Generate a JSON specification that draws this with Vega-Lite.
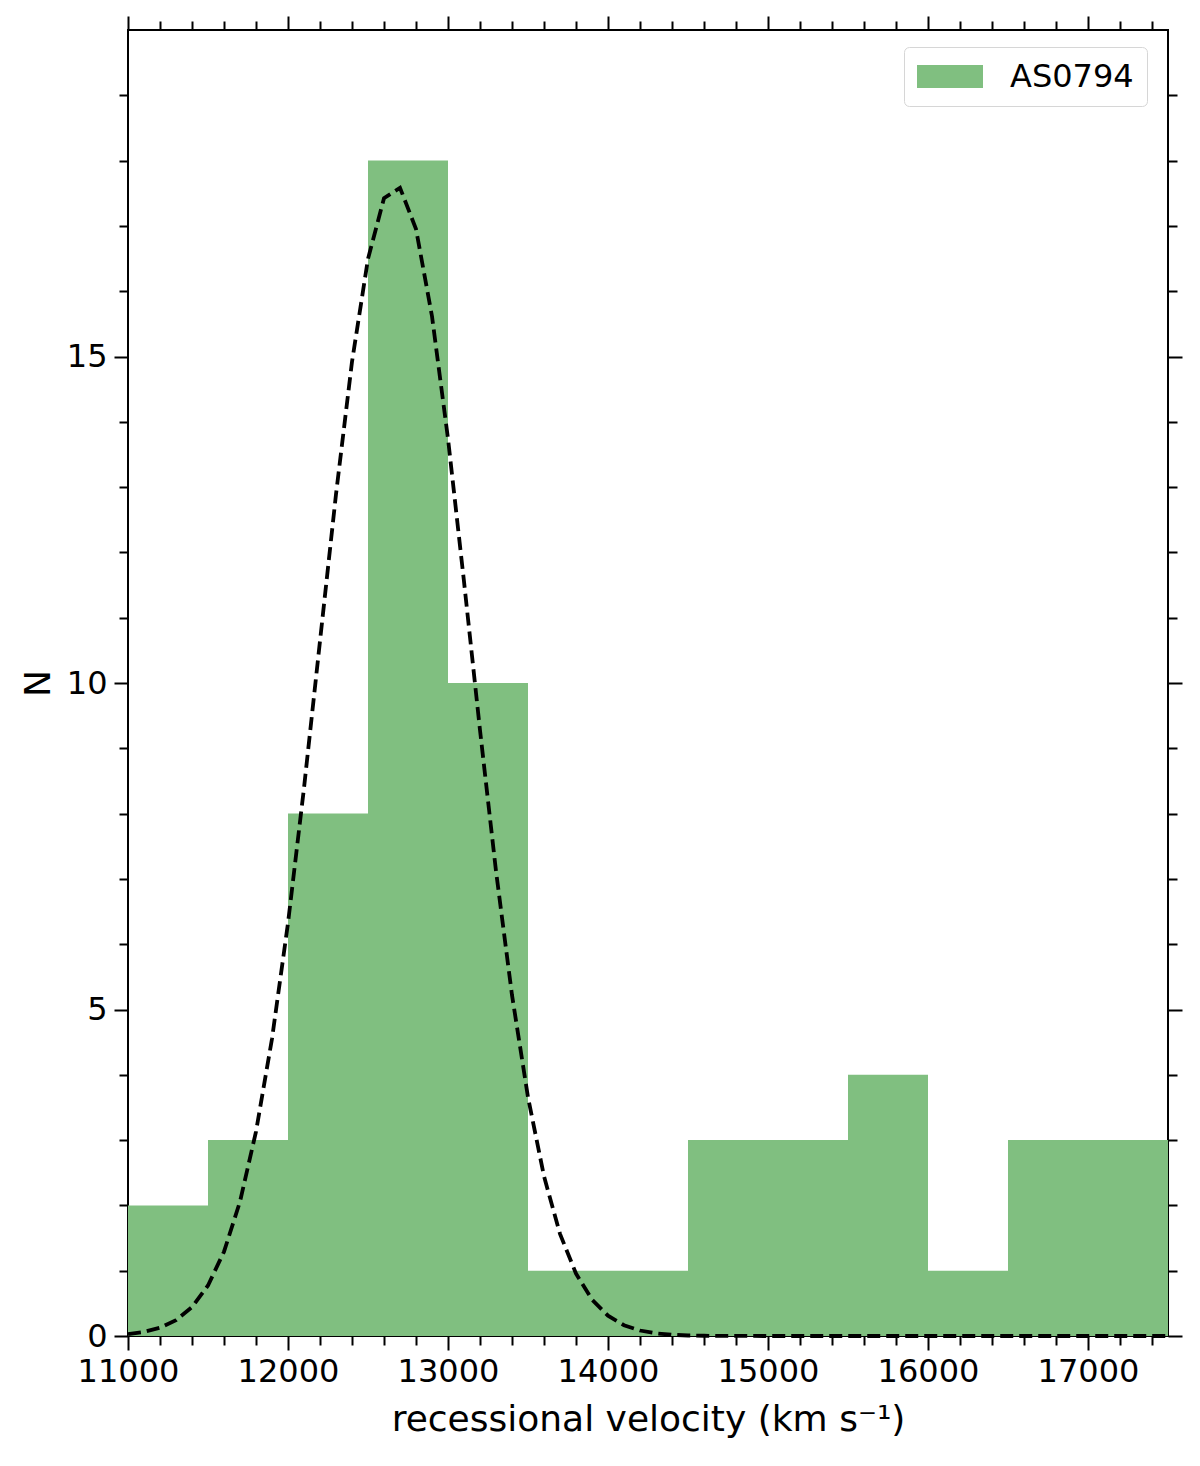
{
  "$schema": "https://vega.github.io/schema/vega-lite/v6.json",
  "width": 1040,
  "height": 1306,
  "autosize": "none",
  "padding": {"left": 128, "top": 30, "right": 32, "bottom": 130},
  "background": "white",
  "config": {
    "font": "DejaVu Sans",
    "view": {"stroke": "black", "strokeWidth": 2},
    "axis": {"grid": false, "domain": false, "tickColor": "black", "tickWidth": 2, "labelColor": "black", "titleColor": "black", "labelFont": "DejaVu Sans", "titleFont": "DejaVu Sans", "labelFontSize": 32, "titleFontSize": 36, "titleFontWeight": "normal", "labelFlush": false}
  },
  "datasets": {
    "bins": [
      {"start": 11000, "end": 11500, "count": 2, "label": "AS0794"},
      {"start": 11500, "end": 12000, "count": 3, "label": "AS0794"},
      {"start": 12000, "end": 12500, "count": 8, "label": "AS0794"},
      {"start": 12500, "end": 13000, "count": 18, "label": "AS0794"},
      {"start": 13000, "end": 13500, "count": 10, "label": "AS0794"},
      {"start": 13500, "end": 14000, "count": 1, "label": "AS0794"},
      {"start": 14000, "end": 14500, "count": 1, "label": "AS0794"},
      {"start": 14500, "end": 15000, "count": 3, "label": "AS0794"},
      {"start": 15000, "end": 15500, "count": 3, "label": "AS0794"},
      {"start": 15500, "end": 16000, "count": 4, "label": "AS0794"},
      {"start": 16000, "end": 16500, "count": 1, "label": "AS0794"},
      {"start": 16500, "end": 17000, "count": 3, "label": "AS0794"},
      {"start": 17000, "end": 17500, "count": 3, "label": "AS0794"}
    ],
    "fit": [
      {"v": 11000, "n": 0.030},
      {"v": 11100, "n": 0.063},
      {"v": 11200, "n": 0.127},
      {"v": 11300, "n": 0.243},
      {"v": 11400, "n": 0.444},
      {"v": 11500, "n": 0.774},
      {"v": 11600, "n": 1.291},
      {"v": 11700, "n": 2.057},
      {"v": 11800, "n": 3.130},
      {"v": 11900, "n": 4.552},
      {"v": 12000, "n": 6.323},
      {"v": 12100, "n": 8.393},
      {"v": 12200, "n": 10.642},
      {"v": 12300, "n": 12.890},
      {"v": 12400, "n": 14.919},
      {"v": 12500, "n": 16.495},
      {"v": 12600, "n": 17.424},
      {"v": 12700, "n": 17.584},
      {"v": 12800, "n": 16.953},
      {"v": 12900, "n": 15.616},
      {"v": 13000, "n": 13.742},
      {"v": 13100, "n": 11.554},
      {"v": 13200, "n": 9.279},
      {"v": 13300, "n": 7.120},
      {"v": 13400, "n": 5.220},
      {"v": 13500, "n": 3.656},
      {"v": 13600, "n": 2.446},
      {"v": 13700, "n": 1.564},
      {"v": 13800, "n": 0.956},
      {"v": 13900, "n": 0.557},
      {"v": 14000, "n": 0.311},
      {"v": 14100, "n": 0.165},
      {"v": 14200, "n": 0.084},
      {"v": 14300, "n": 0.041},
      {"v": 14400, "n": 0.019},
      {"v": 14500, "n": 0.008},
      {"v": 14600, "n": 0.004},
      {"v": 14700, "n": 0.001},
      {"v": 14800, "n": 0.001},
      {"v": 15000, "n": 0},
      {"v": 15500, "n": 0},
      {"v": 16000, "n": 0},
      {"v": 16500, "n": 0},
      {"v": 17000, "n": 0},
      {"v": 17500, "n": 0}
    ]
  },
  "layer": [
    {
      "data": {"name": "bins"},
      "mark": {"type": "rect", "color": "#80bf80"},
      "encoding": {
        "x": {"field": "start", "type": "quantitative",
          "scale": {"domain": [11000, 17500], "nice": false, "zero": false},
          "axis": {"orient": "bottom", "values": [11000, 12000, 13000, 14000, 15000, 16000, 17000], "format": "d", "tickSize": 14, "labelPadding": 6, "title": "recessional velocity (km s⁻¹)", "titlePadding": 15}},
        "x2": {"field": "end"},
        "y": {"field": "count", "type": "quantitative",
          "scale": {"domain": [0, 20], "nice": false},
          "axis": {"orient": "left", "values": [0, 5, 10, 15], "tickSize": 14, "labelPadding": 7, "title": "N", "titlePadding": 9}},
        "y2": {"datum": 0},
        "color": {"field": "label", "type": "nominal", "scale": {"range": ["#80bf80"]},
          "legend": {"title": null, "orient": "none", "legendX": 776, "legendY": 17,
            "symbolType": "M-1,-0.7L3,-0.7L3,0.7L-1,0.7Z", "symbolSize": 1089, "symbolStrokeWidth": 0, "symbolOpacity": 1,
            "labelFontSize": 32, "labelFont": "DejaVu Sans", "labelColor": "black", "labelOffset": 60,
            "padding": 13, "fillColor": "white", "strokeColor": "#d6d6d6", "cornerRadius": 5}}
      }
    },
    {
      "data": {"name": "fit"},
      "mark": {"type": "line", "color": "black", "strokeWidth": 3.8, "strokeDash": [13, 6]},
      "encoding": {
        "x": {"field": "v", "type": "quantitative",
          "scale": {"domain": [11000, 17500], "nice": false, "zero": false},
          "axis": {"orient": "top", "values": [11000, 11200, 11400, 11600, 11800, 12000, 12200, 12400, 12600, 12800, 13000, 13200, 13400, 13600, 13800, 14000, 14200, 14400, 14600, 14800, 15000, 15200, 15400, 15600, 15800, 16000, 16200, 16400, 16600, 16800, 17000, 17200, 17400],
            "labels": false, "title": null,
            "tickSize": {"condition": {"test": "datum.value % 1000 === 0", "value": 14}, "value": 9}}},
        "y": {"field": "n", "type": "quantitative",
          "scale": {"domain": [0, 20], "nice": false},
          "axis": {"orient": "right", "values": [0, 1, 2, 3, 4, 5, 6, 7, 8, 9, 10, 11, 12, 13, 14, 15, 16, 17, 18, 19],
            "labels": false, "title": null,
            "tickSize": {"condition": {"test": "datum.value % 5 === 0", "value": 14}, "value": 9}}}
      }
    },
    {
      "data": {"name": "fit"},
      "mark": {"type": "point", "opacity": 0},
      "encoding": {
        "x": {"field": "v", "type": "quantitative",
          "scale": {"domain": [11000, 17500], "nice": false, "zero": false},
          "axis": {"orient": "bottom", "values": [11200, 11400, 11600, 11800, 12200, 12400, 12600, 12800, 13200, 13400, 13600, 13800, 14200, 14400, 14600, 14800, 15200, 15400, 15600, 15800, 16200, 16400, 16600, 16800, 17200, 17400],
            "labels": false, "title": null, "tickSize": 9}},
        "y": {"field": "n", "type": "quantitative",
          "scale": {"domain": [0, 20], "nice": false},
          "axis": {"orient": "left", "values": [1, 2, 3, 4, 6, 7, 8, 9, 11, 12, 13, 14, 16, 17, 18, 19],
            "labels": false, "title": null, "tickSize": 9}}
      }
    }
  ],
  "resolve": {"axis": {"x": "independent", "y": "independent"}}
}
